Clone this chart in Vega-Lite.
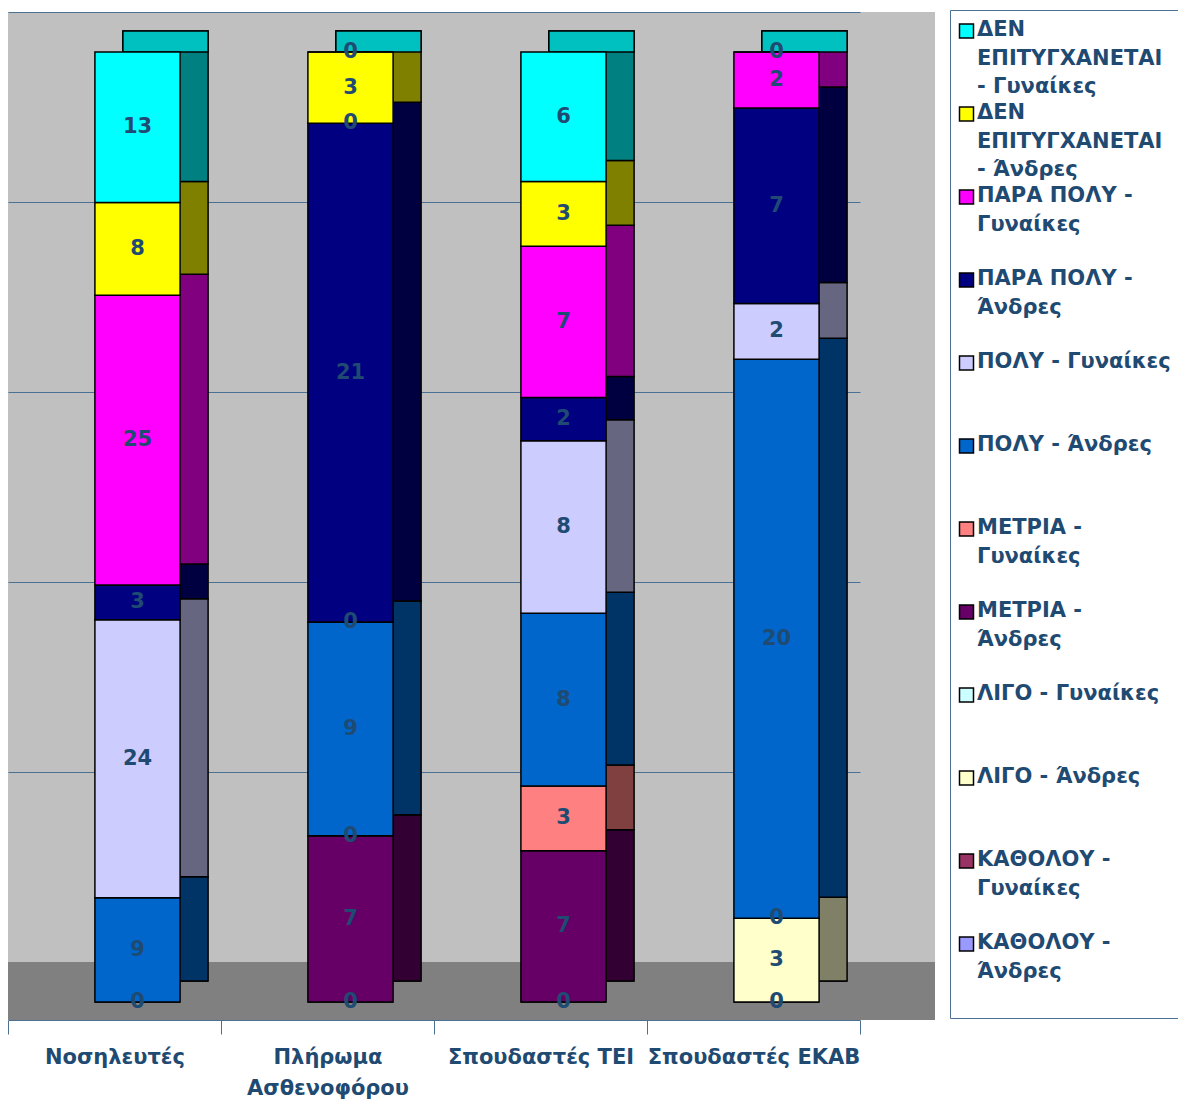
{
  "$schema": "https://vega.github.io/schema/vega-lite/v6.json",
  "width": 927,
  "height": 1008,
  "autosize": "none",
  "padding": {"left": 8, "top": 12, "right": 243, "bottom": 81},
  "background": "white",
  "config": {
    "view": {"fill": "#C0C0C0", "stroke": null},
    "font": "DejaVu Sans"
  },
  "datasets": {
    "main": [
      {"cat": "Νοσηλευτές", "series": "ΚΑΘΟΛΟΥ -  Άνδρες", "value": 0},
      {"cat": "Νοσηλευτές", "series": "ΠΟΛΥ -  Άνδρες", "value": 9},
      {"cat": "Νοσηλευτές", "series": "ΠΟΛΥ -  Γυναίκες", "value": 24},
      {"cat": "Νοσηλευτές", "series": "ΠΑΡΑ ΠΟΛΥ -  Άνδρες", "value": 3},
      {"cat": "Νοσηλευτές", "series": "ΠΑΡΑ ΠΟΛΥ -  Γυναίκες", "value": 25},
      {"cat": "Νοσηλευτές", "series": "ΔΕΝ ΕΠΙΤΥΓΧΑΝΕΤΑΙ -  Άνδρες", "value": 8},
      {"cat": "Νοσηλευτές", "series": "ΔΕΝ ΕΠΙΤΥΓΧΑΝΕΤΑΙ -  Γυναίκες", "value": 13},
      {"cat": "Πλήρωμα Ασθενοφόρου", "series": "ΚΑΘΟΛΟΥ -  Άνδρες", "value": 0},
      {"cat": "Πλήρωμα Ασθενοφόρου", "series": "ΜΕΤΡΙΑ -  Άνδρες", "value": 7},
      {"cat": "Πλήρωμα Ασθενοφόρου", "series": "ΜΕΤΡΙΑ -  Γυναίκες", "value": 0},
      {"cat": "Πλήρωμα Ασθενοφόρου", "series": "ΠΟΛΥ -  Άνδρες", "value": 9},
      {"cat": "Πλήρωμα Ασθενοφόρου", "series": "ΠΟΛΥ -  Γυναίκες", "value": 0},
      {"cat": "Πλήρωμα Ασθενοφόρου", "series": "ΠΑΡΑ ΠΟΛΥ -  Άνδρες", "value": 21},
      {"cat": "Πλήρωμα Ασθενοφόρου", "series": "ΠΑΡΑ ΠΟΛΥ -  Γυναίκες", "value": 0},
      {"cat": "Πλήρωμα Ασθενοφόρου", "series": "ΔΕΝ ΕΠΙΤΥΓΧΑΝΕΤΑΙ -  Άνδρες", "value": 3},
      {"cat": "Πλήρωμα Ασθενοφόρου", "series": "ΔΕΝ ΕΠΙΤΥΓΧΑΝΕΤΑΙ -  Γυναίκες", "value": 0},
      {"cat": "Σπουδαστές ΤΕΙ", "series": "ΚΑΘΟΛΟΥ -  Άνδρες", "value": 0},
      {"cat": "Σπουδαστές ΤΕΙ", "series": "ΜΕΤΡΙΑ -  Άνδρες", "value": 7},
      {"cat": "Σπουδαστές ΤΕΙ", "series": "ΜΕΤΡΙΑ -  Γυναίκες", "value": 3},
      {"cat": "Σπουδαστές ΤΕΙ", "series": "ΠΟΛΥ -  Άνδρες", "value": 8},
      {"cat": "Σπουδαστές ΤΕΙ", "series": "ΠΟΛΥ -  Γυναίκες", "value": 8},
      {"cat": "Σπουδαστές ΤΕΙ", "series": "ΠΑΡΑ ΠΟΛΥ -  Άνδρες", "value": 2},
      {"cat": "Σπουδαστές ΤΕΙ", "series": "ΠΑΡΑ ΠΟΛΥ -  Γυναίκες", "value": 7},
      {"cat": "Σπουδαστές ΤΕΙ", "series": "ΔΕΝ ΕΠΙΤΥΓΧΑΝΕΤΑΙ -  Άνδρες", "value": 3},
      {"cat": "Σπουδαστές ΤΕΙ", "series": "ΔΕΝ ΕΠΙΤΥΓΧΑΝΕΤΑΙ -  Γυναίκες", "value": 6},
      {"cat": "Σπουδαστές ΕΚΑΒ", "series": "ΚΑΘΟΛΟΥ -  Άνδρες", "value": 0},
      {"cat": "Σπουδαστές ΕΚΑΒ", "series": "ΛΙΓΟ -  Άνδρες", "value": 3},
      {"cat": "Σπουδαστές ΕΚΑΒ", "series": "ΛΙΓΟ -  Γυναίκες", "value": 0},
      {"cat": "Σπουδαστές ΕΚΑΒ", "series": "ΠΟΛΥ -  Άνδρες", "value": 20},
      {"cat": "Σπουδαστές ΕΚΑΒ", "series": "ΠΟΛΥ -  Γυναίκες", "value": 2},
      {"cat": "Σπουδαστές ΕΚΑΒ", "series": "ΠΑΡΑ ΠΟΛΥ -  Άνδρες", "value": 7},
      {"cat": "Σπουδαστές ΕΚΑΒ", "series": "ΠΑΡΑ ΠΟΛΥ -  Γυναίκες", "value": 2},
      {"cat": "Σπουδαστές ΕΚΑΒ", "series": "ΔΕΝ ΕΠΙΤΥΓΧΑΝΕΤΑΙ -  Γυναίκες", "value": 0}
    ]
  },
  "data": {"name": "main"},
  "encoding": {
    "x": {
      "field": "cat",
      "type": "nominal",
      "scale": {
        "type": "band",
        "domain": ["Νοσηλευτές", "Πλήρωμα Ασθενοφόρου", "Σπουδαστές ΤΕΙ", "Σπουδαστές ΕΚΑΒ"],
        "range": [0, 852],
        "paddingInner": 0,
        "paddingOuter": 0
      },
      "axis": {
        "title": null,
        "labelAngle": 0,
        "tickBand": "extent",
        "domainColor": "#4A7194",
        "domainWidth": 1,
        "tickColor": "#4A7194",
        "tickSize": 14,
        "labelFont": "DejaVu Sans",
        "labelFontWeight": "bold",
        "labelFontSize": 21,
        "labelColor": "#1F4A72",
        "labelPadding": 12,
        "labelLineHeight": 31,
        "labelLimit": 300,
        "grid": false,
        "labelExpr": "datum.label == 'Πλήρωμα Ασθενοφόρου' ? ['Πλήρωμα', 'Ασθενοφόρου'] : datum.label"
      }
    }
  },
  "layer": [
    {
      "data": {"values": [{}]},
      "mark": {"type": "rect", "fill": "#808080"},
      "encoding": {
        "x": {"value": 0},
        "x2": {"value": "width"},
        "y": {
          "datum": -0.01895,
          "type": "quantitative",
          "scale": {"domain": [-0.01895, 1.04211], "nice": false, "zero": false},
          "axis": {"title": null, "values": [0.04211, 0.24211, 0.44211, 0.64211, 0.84211, 1.04211], "grid": true, "gridColor": "#4A7194", "gridWidth": 1, "domain": false, "ticks": false, "labels": false}
        },
        "y2": {"datum": 0.04211}
      }
    },
    {
      "transform": [
        {"stack": "value", "groupby": ["cat"], "offset": "normalize", "as": ["y0", "y1"]}
      ],
      "mark": {"type": "bar", "width": {"band": 0.4}, "xOffset": 51, "yOffset": -21, "y2Offset": -21, "stroke": "black", "strokeWidth": 1.5},
      "encoding": {
        "y": {
          "field": "y1",
          "type": "quantitative",
          "scale": {"domain": [-0.01895, 1.04211], "nice": false, "zero": false},
          "axis": {"title": null, "values": [0.04211, 0.24211, 0.44211, 0.64211, 0.84211, 1.04211], "grid": true, "gridColor": "#4A7194", "gridWidth": 1, "domain": false, "ticks": false, "labels": false}
        },
        "y2": {"field": "y0"},
        "color": {
          "field": "series",
          "type": "nominal",
          "legend": null,
          "scale": {
            "domain": ["ΔΕΝ ΕΠΙΤΥΓΧΑΝΕΤΑΙ -  Γυναίκες", "ΔΕΝ ΕΠΙΤΥΓΧΑΝΕΤΑΙ -  Άνδρες", "ΠΑΡΑ ΠΟΛΥ -  Γυναίκες", "ΠΑΡΑ ΠΟΛΥ -  Άνδρες", "ΠΟΛΥ -  Γυναίκες", "ΠΟΛΥ -  Άνδρες", "ΜΕΤΡΙΑ -  Γυναίκες", "ΜΕΤΡΙΑ -  Άνδρες", "ΛΙΓΟ -  Γυναίκες", "ΛΙΓΟ -  Άνδρες", "ΚΑΘΟΛΟΥ -  Γυναίκες", "ΚΑΘΟΛΟΥ -  Άνδρες"],
            "range": ["#008080", "#808000", "#800080", "#000040", "#666680", "#003366", "#804040", "#330033", "#668080", "#808066", "#4D1933", "#4D4D80"]
          }
        }
      }
    },
    {
      "transform": [
        {"filter": "datum.series == 'ΔΕΝ ΕΠΙΤΥΓΧΑΝΕΤΑΙ -  Γυναίκες'"}
      ],
      "mark": {"type": "bar", "width": {"band": 0.4}, "xOffset": 51, "y2Offset": -21, "fill": "#00C0C0", "stroke": "black", "strokeWidth": 1.5},
      "encoding": {
        "y": {
          "datum": 1,
          "type": "quantitative",
          "scale": {"domain": [-0.01895, 1.04211], "nice": false, "zero": false},
          "axis": {"title": null, "values": [0.04211, 0.24211, 0.44211, 0.64211, 0.84211, 1.04211], "grid": true, "gridColor": "#4A7194", "gridWidth": 1, "domain": false, "ticks": false, "labels": false}
        },
        "y2": {"datum": 1}
      }
    },
    {
      "transform": [
        {"stack": "value", "groupby": ["cat"], "offset": "normalize", "as": ["y0", "y1"]}
      ],
      "mark": {"type": "bar", "width": {"band": 0.4}, "xOffset": 23, "stroke": "black", "strokeWidth": 1.5},
      "encoding": {
        "y": {
          "field": "y1",
          "type": "quantitative",
          "scale": {"domain": [-0.01895, 1.04211], "nice": false, "zero": false},
          "axis": {"title": null, "values": [0.04211, 0.24211, 0.44211, 0.64211, 0.84211, 1.04211], "grid": true, "gridColor": "#4A7194", "gridWidth": 1, "domain": false, "ticks": false, "labels": false}
        },
        "y2": {"field": "y0"},
        "color": {
          "field": "series",
          "type": "nominal",
          "scale": {
            "domain": ["ΔΕΝ ΕΠΙΤΥΓΧΑΝΕΤΑΙ -  Γυναίκες", "ΔΕΝ ΕΠΙΤΥΓΧΑΝΕΤΑΙ -  Άνδρες", "ΠΑΡΑ ΠΟΛΥ -  Γυναίκες", "ΠΑΡΑ ΠΟΛΥ -  Άνδρες", "ΠΟΛΥ -  Γυναίκες", "ΠΟΛΥ -  Άνδρες", "ΜΕΤΡΙΑ -  Γυναίκες", "ΜΕΤΡΙΑ -  Άνδρες", "ΛΙΓΟ -  Γυναίκες", "ΛΙΓΟ -  Άνδρες", "ΚΑΘΟΛΟΥ -  Γυναίκες", "ΚΑΘΟΛΟΥ -  Άνδρες"],
            "range": ["#00FFFF", "#FFFF00", "#FF00FF", "#000080", "#CCCCFF", "#0066CC", "#FF8080", "#660066", "#CCFFFF", "#FFFFCC", "#993366", "#9999FF"]
          },
          "legend": {
            "title": null,
            "orient": "none",
            "legendX": 942,
            "legendY": -2,
            "padding": 6,
            "fillColor": "white",
            "strokeColor": "#4A7194",
            "symbolType": "square",
            "symbolSize": 196,
            "symbolStrokeColor": "black",
            "symbolStrokeWidth": 1.5,
            "symbolOpacity": 1,
            "labelFont": "DejaVu Sans",
            "labelFontSize": 21,
            "labelFontWeight": "bold",
            "labelColor": "#1F4A72",
            "labelLimit": 300,
            "labelOffset": 0,
            "labelBaseline": "top",
            "clipHeight": 82.6,
            "rowPadding": 0,
            "labelExpr": "datum.label == 'ΔΕΝ ΕΠΙΤΥΓΧΑΝΕΤΑΙ -  Γυναίκες' ? ['ΔΕΝ', 'ΕΠΙΤΥΓΧΑΝΕΤΑΙ', '-  Γυναίκες'] : datum.label == 'ΔΕΝ ΕΠΙΤΥΓΧΑΝΕΤΑΙ -  Άνδρες' ? ['ΔΕΝ', 'ΕΠΙΤΥΓΧΑΝΕΤΑΙ', '-  Άνδρες'] : (indexof(datum.label, 'ΠΑΡΑ') == 0 || indexof(datum.label, 'ΜΕΤΡΙΑ') == 0 || indexof(datum.label, 'ΚΑΘΟΛΟΥ') == 0) ? split(datum.label, '  ') : datum.label",
            "encode": {
              "symbols": {"update": {"y": {"value": 15}}},
              "labels": {"update": {"y": {"value": 3}, "lineHeight": {"value": 28.5}}}
            }
          }
        }
      }
    },
    {
      "transform": [
        {"stack": "value", "groupby": ["cat"], "offset": "normalize", "as": ["y0", "y1"]},
        {"fold": ["y0", "y1"], "as": ["edge", "pos"]}
      ],
      "mark": {"type": "text", "xOffset": 23, "font": "DejaVu Sans", "fontSize": 21, "fontWeight": "bold", "fill": "#1F4A72", "baseline": "middle", "align": "center"},
      "encoding": {
        "y": {
          "field": "pos",
          "aggregate": "mean",
          "type": "quantitative",
          "scale": {"domain": [-0.01895, 1.04211], "nice": false, "zero": false},
          "axis": {"title": null, "values": [0.04211, 0.24211, 0.44211, 0.64211, 0.84211, 1.04211], "grid": true, "gridColor": "#4A7194", "gridWidth": 1, "domain": false, "ticks": false, "labels": false}
        },
        "detail": [{"field": "series", "type": "nominal"}, {"field": "value", "type": "nominal"}],
        "text": {"field": "value", "type": "nominal"}
      }
    }
  ],
  "resolve": {"scale": {"color": "independent"}, "legend": {"color": "independent"}}
}
